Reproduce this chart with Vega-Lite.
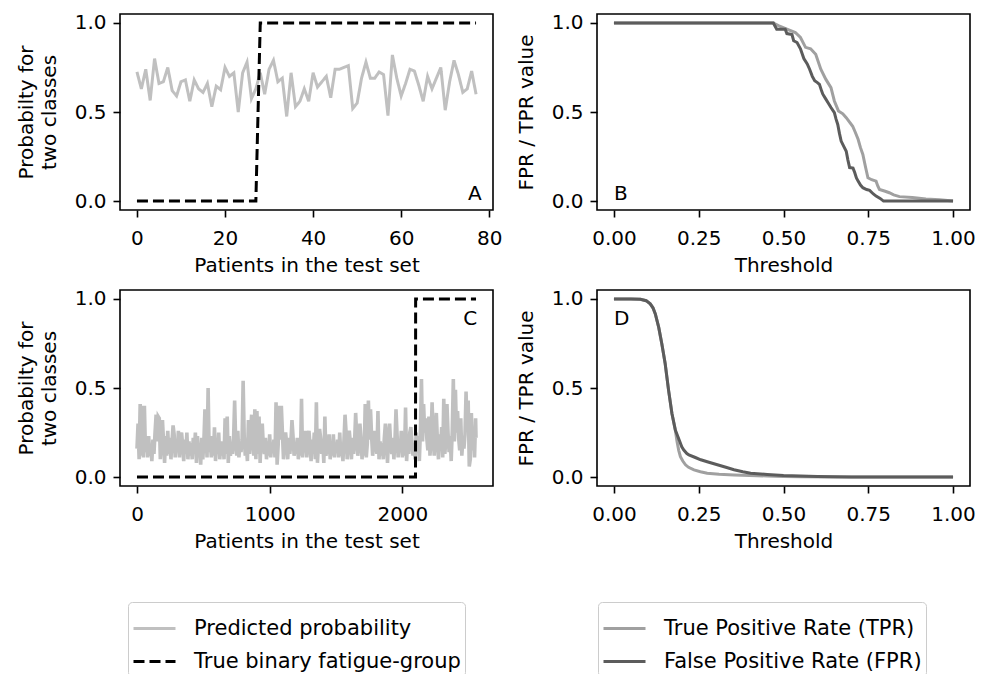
{
"$schema": "https://vega.github.io/schema/vega-lite/v6.json",
"autosize": {"type": "none"},
"padding": {"left": 120, "top": 14, "right": 868, "bottom": 660},
"background": "white",
"columns": 2,
"spacing": {"row": 80, "column": 104},
"bounds": "flush",
"datasets": {
"pa": [{"x":0,"y":0.725},{"x":1,"y":0.63},{"x":2,"y":0.74},{"x":3,"y":0.565},{"x":4,"y":0.80},{"x":5,"y":0.66},{"x":6,"y":0.67},{"x":7,"y":0.75},{"x":8,"y":0.62},{"x":9,"y":0.59},{"x":10,"y":0.67},{"x":11,"y":0.68},{"x":12,"y":0.56},{"x":13,"y":0.68},{"x":14,"y":0.63},{"x":15,"y":0.61},{"x":16,"y":0.66},{"x":17,"y":0.53},{"x":18,"y":0.645},{"x":19,"y":0.625},{"x":20,"y":0.75},{"x":21,"y":0.70},{"x":22,"y":0.72},{"x":23,"y":0.50},{"x":24,"y":0.72},{"x":25,"y":0.78},{"x":26,"y":0.575},{"x":27,"y":0.63},{"x":28,"y":0.72},{"x":29,"y":0.60},{"x":30,"y":0.74},{"x":31,"y":0.79},{"x":32,"y":0.67},{"x":33,"y":0.69},{"x":34,"y":0.475},{"x":35,"y":0.72},{"x":36,"y":0.53},{"x":37,"y":0.56},{"x":38,"y":0.63},{"x":39,"y":0.56},{"x":40,"y":0.72},{"x":41,"y":0.64},{"x":42,"y":0.67},{"x":43,"y":0.70},{"x":44,"y":0.58},{"x":45,"y":0.74},{"x":46,"y":0.74},{"x":47,"y":0.75},{"x":48,"y":0.76},{"x":49,"y":0.52},{"x":50,"y":0.55},{"x":51,"y":0.69},{"x":52,"y":0.78},{"x":53,"y":0.69},{"x":54,"y":0.69},{"x":55,"y":0.725},{"x":56,"y":0.71},{"x":57,"y":0.48},{"x":58,"y":0.82},{"x":59,"y":0.69},{"x":60,"y":0.59},{"x":61,"y":0.66},{"x":62,"y":0.74},{"x":63,"y":0.73},{"x":64,"y":0.65},{"x":65,"y":0.56},{"x":66,"y":0.70},{"x":67,"y":0.63},{"x":68,"y":0.69},{"x":69,"y":0.75},{"x":70,"y":0.51},{"x":71,"y":0.67},{"x":72,"y":0.79},{"x":73,"y":0.71},{"x":74,"y":0.61},{"x":75,"y":0.63},{"x":76,"y":0.73},{"x":77,"y":0.60}],
"ta": [{"x":0,"y":0},{"x":27,"y":0},{"x":28,"y":1},{"x":77,"y":1}],
"tprb": [{"x":0,"y":1},{"x":0.47,"y":1},{"x":0.485,"y":0.985},{"x":0.51,"y":0.965},{"x":0.535,"y":0.946},{"x":0.55,"y":0.918},{"x":0.565,"y":0.863},{"x":0.58,"y":0.855},{"x":0.595,"y":0.824},{"x":0.61,"y":0.74},{"x":0.625,"y":0.683},{"x":0.64,"y":0.637},{"x":0.65,"y":0.562},{"x":0.662,"y":0.506},{"x":0.675,"y":0.49},{"x":0.685,"y":0.468},{"x":0.704,"y":0.42},{"x":0.712,"y":0.385},{"x":0.72,"y":0.347},{"x":0.727,"y":0.30},{"x":0.734,"y":0.262},{"x":0.742,"y":0.19},{"x":0.749,"y":0.131},{"x":0.76,"y":0.12},{"x":0.773,"y":0.112},{"x":0.778,"y":0.085},{"x":0.783,"y":0.065},{"x":0.80,"y":0.055},{"x":0.812,"y":0.047},{"x":0.825,"y":0.035},{"x":0.842,"y":0.025},{"x":0.88,"y":0.02},{"x":0.92,"y":0.012},{"x":0.96,"y":0.008},{"x":1.0,"y":0.0}],
"fprb": [{"x":0,"y":1},{"x":0.47,"y":1},{"x":0.48,"y":0.965},{"x":0.505,"y":0.965},{"x":0.51,"y":0.94},{"x":0.525,"y":0.935},{"x":0.53,"y":0.90},{"x":0.54,"y":0.89},{"x":0.55,"y":0.855},{"x":0.56,"y":0.80},{"x":0.57,"y":0.77},{"x":0.577,"y":0.74},{"x":0.585,"y":0.70},{"x":0.592,"y":0.675},{"x":0.6,"y":0.665},{"x":0.606,"y":0.655},{"x":0.612,"y":0.62},{"x":0.616,"y":0.60},{"x":0.624,"y":0.575},{"x":0.631,"y":0.553},{"x":0.64,"y":0.525},{"x":0.65,"y":0.497},{"x":0.655,"y":0.46},{"x":0.66,"y":0.43},{"x":0.665,"y":0.38},{"x":0.67,"y":0.337},{"x":0.677,"y":0.31},{"x":0.685,"y":0.28},{"x":0.69,"y":0.23},{"x":0.695,"y":0.188},{"x":0.705,"y":0.185},{"x":0.71,"y":0.16},{"x":0.715,"y":0.13},{"x":0.72,"y":0.112},{"x":0.727,"y":0.09},{"x":0.734,"y":0.075},{"x":0.745,"y":0.065},{"x":0.754,"y":0.06},{"x":0.765,"y":0.04},{"x":0.773,"y":0.028},{"x":0.785,"y":0.015},{"x":0.795,"y":0},{"x":1.0,"y":0}],
"pc": [{"x":0,"y":0.16},{"x":8,"y":0.30},{"x":16,"y":0.10},{"x":24,"y":0.41},{"x":32,"y":0.12},{"x":40,"y":0.40},{"x":48,"y":0.11},{"x":56,"y":0.40},{"x":64,"y":0.14},{"x":72,"y":0.21},{"x":80,"y":0.11},{"x":88,"y":0.23},{"x":96,"y":0.12},{"x":104,"y":0.18},{"x":112,"y":0.09},{"x":120,"y":0.21},{"x":128,"y":0.13},{"x":136,"y":0.25},{"x":144,"y":0.35},{"x":152,"y":0.20},{"x":160,"y":0.34},{"x":168,"y":0.33},{"x":176,"y":0.10},{"x":184,"y":0.22},{"x":192,"y":0.32},{"x":200,"y":0.20},{"x":208,"y":0.08},{"x":216,"y":0.23},{"x":224,"y":0.12},{"x":232,"y":0.26},{"x":240,"y":0.13},{"x":248,"y":0.22},{"x":256,"y":0.10},{"x":264,"y":0.20},{"x":272,"y":0.29},{"x":280,"y":0.24},{"x":288,"y":0.11},{"x":296,"y":0.19},{"x":304,"y":0.14},{"x":312,"y":0.26},{"x":320,"y":0.11},{"x":328,"y":0.23},{"x":336,"y":0.25},{"x":344,"y":0.18},{"x":352,"y":0.09},{"x":360,"y":0.21},{"x":368,"y":0.13},{"x":376,"y":0.25},{"x":384,"y":0.10},{"x":392,"y":0.20},{"x":400,"y":0.12},{"x":408,"y":0.19},{"x":416,"y":0.10},{"x":424,"y":0.22},{"x":432,"y":0.13},{"x":440,"y":0.25},{"x":448,"y":0.08},{"x":456,"y":0.23},{"x":464,"y":0.12},{"x":472,"y":0.18},{"x":480,"y":0.07},{"x":488,"y":0.22},{"x":496,"y":0.10},{"x":504,"y":0.20},{"x":512,"y":0.38},{"x":520,"y":0.24},{"x":528,"y":0.11},{"x":536,"y":0.50},{"x":544,"y":0.14},{"x":552,"y":0.21},{"x":560,"y":0.11},{"x":568,"y":0.23},{"x":576,"y":0.12},{"x":584,"y":0.28},{"x":592,"y":0.09},{"x":600,"y":0.21},{"x":608,"y":0.13},{"x":616,"y":0.25},{"x":624,"y":0.10},{"x":632,"y":0.20},{"x":640,"y":0.12},{"x":648,"y":0.19},{"x":656,"y":0.10},{"x":664,"y":0.33},{"x":672,"y":0.13},{"x":680,"y":0.34},{"x":688,"y":0.08},{"x":696,"y":0.23},{"x":704,"y":0.12},{"x":712,"y":0.18},{"x":720,"y":0.13},{"x":728,"y":0.22},{"x":736,"y":0.43},{"x":744,"y":0.20},{"x":752,"y":0.12},{"x":760,"y":0.26},{"x":768,"y":0.11},{"x":776,"y":0.19},{"x":784,"y":0.14},{"x":792,"y":0.21},{"x":800,"y":0.54},{"x":808,"y":0.23},{"x":816,"y":0.12},{"x":824,"y":0.18},{"x":832,"y":0.09},{"x":840,"y":0.32},{"x":848,"y":0.13},{"x":856,"y":0.25},{"x":864,"y":0.35},{"x":872,"y":0.20},{"x":880,"y":0.12},{"x":888,"y":0.38},{"x":896,"y":0.10},{"x":904,"y":0.37},{"x":912,"y":0.13},{"x":920,"y":0.34},{"x":928,"y":0.08},{"x":936,"y":0.23},{"x":944,"y":0.30},{"x":952,"y":0.18},{"x":960,"y":0.13},{"x":968,"y":0.22},{"x":976,"y":0.10},{"x":984,"y":0.20},{"x":992,"y":0.12},{"x":1000,"y":0.24},{"x":1008,"y":0.11},{"x":1016,"y":0.19},{"x":1024,"y":0.14},{"x":1032,"y":0.21},{"x":1040,"y":0.11},{"x":1048,"y":0.42},{"x":1056,"y":0.07},{"x":1064,"y":0.18},{"x":1072,"y":0.40},{"x":1080,"y":0.21},{"x":1088,"y":0.40},{"x":1096,"y":0.25},{"x":1104,"y":0.10},{"x":1112,"y":0.20},{"x":1120,"y":0.25},{"x":1128,"y":0.19},{"x":1136,"y":0.10},{"x":1144,"y":0.22},{"x":1152,"y":0.13},{"x":1160,"y":0.20},{"x":1168,"y":0.32},{"x":1176,"y":0.23},{"x":1184,"y":0.12},{"x":1192,"y":0.18},{"x":1200,"y":0.13},{"x":1208,"y":0.22},{"x":1216,"y":0.10},{"x":1224,"y":0.20},{"x":1232,"y":0.12},{"x":1240,"y":0.44},{"x":1248,"y":0.11},{"x":1256,"y":0.19},{"x":1264,"y":0.14},{"x":1272,"y":0.26},{"x":1280,"y":0.11},{"x":1288,"y":0.23},{"x":1296,"y":0.26},{"x":1304,"y":0.18},{"x":1312,"y":0.09},{"x":1320,"y":0.21},{"x":1328,"y":0.13},{"x":1336,"y":0.25},{"x":1344,"y":0.10},{"x":1352,"y":0.42},{"x":1360,"y":0.08},{"x":1368,"y":0.19},{"x":1376,"y":0.27},{"x":1384,"y":0.22},{"x":1392,"y":0.13},{"x":1400,"y":0.20},{"x":1408,"y":0.08},{"x":1416,"y":0.34},{"x":1424,"y":0.12},{"x":1432,"y":0.18},{"x":1440,"y":0.13},{"x":1448,"y":0.24},{"x":1456,"y":0.10},{"x":1464,"y":0.20},{"x":1472,"y":0.12},{"x":1480,"y":0.24},{"x":1488,"y":0.11},{"x":1496,"y":0.19},{"x":1504,"y":0.14},{"x":1512,"y":0.21},{"x":1520,"y":0.11},{"x":1528,"y":0.25},{"x":1536,"y":0.12},{"x":1544,"y":0.18},{"x":1552,"y":0.09},{"x":1560,"y":0.21},{"x":1568,"y":0.35},{"x":1576,"y":0.25},{"x":1584,"y":0.10},{"x":1592,"y":0.20},{"x":1600,"y":0.26},{"x":1608,"y":0.19},{"x":1616,"y":0.10},{"x":1624,"y":0.22},{"x":1632,"y":0.13},{"x":1640,"y":0.20},{"x":1648,"y":0.36},{"x":1656,"y":0.23},{"x":1664,"y":0.12},{"x":1672,"y":0.18},{"x":1680,"y":0.30},{"x":1688,"y":0.22},{"x":1696,"y":0.10},{"x":1704,"y":0.20},{"x":1712,"y":0.12},{"x":1720,"y":0.41},{"x":1728,"y":0.11},{"x":1736,"y":0.19},{"x":1744,"y":0.43},{"x":1752,"y":0.21},{"x":1760,"y":0.38},{"x":1768,"y":0.23},{"x":1776,"y":0.12},{"x":1784,"y":0.18},{"x":1792,"y":0.26},{"x":1800,"y":0.21},{"x":1808,"y":0.13},{"x":1816,"y":0.37},{"x":1824,"y":0.10},{"x":1832,"y":0.20},{"x":1840,"y":0.12},{"x":1848,"y":0.19},{"x":1856,"y":0.10},{"x":1864,"y":0.22},{"x":1872,"y":0.30},{"x":1880,"y":0.20},{"x":1888,"y":0.08},{"x":1896,"y":0.23},{"x":1904,"y":0.30},{"x":1912,"y":0.18},{"x":1920,"y":0.13},{"x":1928,"y":0.22},{"x":1936,"y":0.10},{"x":1944,"y":0.20},{"x":1952,"y":0.38},{"x":1960,"y":0.24},{"x":1968,"y":0.11},{"x":1976,"y":0.19},{"x":1984,"y":0.14},{"x":1992,"y":0.26},{"x":2000,"y":0.11},{"x":2008,"y":0.23},{"x":2016,"y":0.12},{"x":2024,"y":0.39},{"x":2032,"y":0.09},{"x":2040,"y":0.21},{"x":2048,"y":0.13},{"x":2056,"y":0.25},{"x":2064,"y":0.28},{"x":2072,"y":0.20},{"x":2080,"y":0.12},{"x":2088,"y":0.19},{"x":2096,"y":0.10},{"x":2104,"y":0.25},{"x":2112,"y":0.14},{"x":2120,"y":0.23},{"x":2128,"y":0.09},{"x":2136,"y":0.26},{"x":2144,"y":0.55},{"x":2152,"y":0.20},{"x":2160,"y":0.41},{"x":2168,"y":0.25},{"x":2176,"y":0.33},{"x":2184,"y":0.22},{"x":2192,"y":0.15},{"x":2200,"y":0.34},{"x":2208,"y":0.12},{"x":2216,"y":0.21},{"x":2224,"y":0.42},{"x":2232,"y":0.24},{"x":2240,"y":0.12},{"x":2248,"y":0.26},{"x":2256,"y":0.36},{"x":2264,"y":0.20},{"x":2272,"y":0.10},{"x":2280,"y":0.24},{"x":2288,"y":0.15},{"x":2296,"y":0.28},{"x":2304,"y":0.11},{"x":2312,"y":0.44},{"x":2320,"y":0.13},{"x":2328,"y":0.21},{"x":2336,"y":0.41},{"x":2344,"y":0.25},{"x":2352,"y":0.14},{"x":2360,"y":0.23},{"x":2368,"y":0.09},{"x":2376,"y":0.26},{"x":2384,"y":0.55},{"x":2392,"y":0.20},{"x":2400,"y":0.49},{"x":2408,"y":0.25},{"x":2416,"y":0.37},{"x":2424,"y":0.22},{"x":2432,"y":0.15},{"x":2440,"y":0.33},{"x":2448,"y":0.12},{"x":2456,"y":0.21},{"x":2464,"y":0.16},{"x":2472,"y":0.24},{"x":2480,"y":0.48},{"x":2488,"y":0.26},{"x":2496,"y":0.43},{"x":2504,"y":0.06},{"x":2512,"y":0.10},{"x":2520,"y":0.36},{"x":2528,"y":0.15},{"x":2536,"y":0.28},{"x":2544,"y":0.11},{"x":2552,"y":0.33},{"x":2555,"y":0.22}],
"tc": [{"x":0,"y":0},{"x":2099,"y":0},{"x":2100,"y":1},{"x":2555,"y":1}],
"tprd": [{"x":0,"y":1},{"x":0.05,"y":1},{"x":0.078,"y":0.998},{"x":0.095,"y":0.99},{"x":0.107,"y":0.972},{"x":0.115,"y":0.95},{"x":0.122,"y":0.916},{"x":0.132,"y":0.84},{"x":0.141,"y":0.75},{"x":0.151,"y":0.637},{"x":0.161,"y":0.488},{"x":0.171,"y":0.357},{"x":0.181,"y":0.264},{"x":0.186,"y":0.2},{"x":0.191,"y":0.15},{"x":0.196,"y":0.115},{"x":0.203,"y":0.09},{"x":0.211,"y":0.069},{"x":0.22,"y":0.055},{"x":0.236,"y":0.04},{"x":0.255,"y":0.03},{"x":0.275,"y":0.022},{"x":0.31,"y":0.016},{"x":0.354,"y":0.012},{"x":0.4,"y":0.009},{"x":0.452,"y":0.006},{"x":0.5,"y":0.004},{"x":0.55,"y":0.002},{"x":0.65,"y":0.001},{"x":1.0,"y":0}],
"fprd": [{"x":0,"y":1},{"x":0.05,"y":1},{"x":0.078,"y":0.998},{"x":0.095,"y":0.99},{"x":0.107,"y":0.972},{"x":0.115,"y":0.95},{"x":0.122,"y":0.916},{"x":0.132,"y":0.84},{"x":0.141,"y":0.75},{"x":0.151,"y":0.637},{"x":0.161,"y":0.488},{"x":0.171,"y":0.357},{"x":0.181,"y":0.264},{"x":0.191,"y":0.215},{"x":0.2,"y":0.17},{"x":0.206,"y":0.152},{"x":0.215,"y":0.132},{"x":0.221,"y":0.125},{"x":0.24,"y":0.11},{"x":0.256,"y":0.097},{"x":0.28,"y":0.083},{"x":0.305,"y":0.069},{"x":0.33,"y":0.055},{"x":0.354,"y":0.041},{"x":0.38,"y":0.03},{"x":0.403,"y":0.022},{"x":0.452,"y":0.015},{"x":0.5,"y":0.009},{"x":0.55,"y":0.006},{"x":0.6,"y":0.003},{"x":0.7,"y":0.001},{"x":1.0,"y":0}],
"la": [{"x":78.3,"y":0.038,"t":"A"}],
"lb": [{"x":0.0,"y":0.038,"t":"B"}],
"lc": [{"x":2565,"y":0.885,"t":"C"}],
"ld": [{"x":0.0,"y":0.885,"t":"D"}]
},
"concat": [
{
"width": 373, "height": 196,
"layer": [
{"data": {"name": "pa"}, "mark": {"type": "line", "strokeWidth": 3},
 "encoding": {
  "x": {"field": "x", "type": "quantitative", "scale": {"domain": [-3.85, 80.85], "nice": false, "zero": false}, "axis": {"values": [0,20,40,60,80], "format": "d", "title": "Patients in the test set"}},
  "y": {"field": "y", "type": "quantitative", "scale": {"domain": [-0.05, 1.05], "nice": false}, "axis": {"values": [0,0.5,1], "format": ".1f", "title": ["Probabilty for", "two classes"]}},
  "color": {"datum": "Predicted probability", "scale": {"domain": ["Predicted probability", "True binary fatigue-group"], "range": ["#c0c0c0", "#000000"]}, "legend": null},
  "strokeDash": {"datum": "Predicted probability", "scale": {"domain": ["Predicted probability", "True binary fatigue-group"], "range": [[1,0],[11,5]]}, "legend": null}
 }},
{"data": {"name": "ta"}, "mark": {"type": "line", "strokeWidth": 3},
 "encoding": {
  "x": {"field": "x", "type": "quantitative"},
  "y": {"field": "y", "type": "quantitative"},
  "color": {"datum": "True binary fatigue-group", "legend": null},
  "strokeDash": {"datum": "True binary fatigue-group", "legend": null}
 }},
{"data": {"name": "la"}, "mark": {"type": "text", "align": "right", "baseline": "middle", "fontSize": 20, "color": "black"},
 "encoding": {"x": {"field": "x", "type": "quantitative"}, "y": {"field": "y", "type": "quantitative"}, "text": {"field": "t"}}}
]
},
{
"width": 373, "height": 196,
"layer": [
{"data": {"name": "tprb"}, "mark": {"type": "line", "strokeWidth": 3},
 "encoding": {
  "x": {"field": "x", "type": "quantitative", "scale": {"domain": [-0.05, 1.05], "nice": false, "zero": false}, "axis": {"values": [0,0.25,0.5,0.75,1], "format": ".2f", "title": "Threshold"}},
  "y": {"field": "y", "type": "quantitative", "scale": {"domain": [-0.05, 1.05], "nice": false}, "axis": {"values": [0,0.5,1], "format": ".1f", "title": "FPR / TPR value"}},
  "color": {"datum": "True Positive Rate (TPR)", "scale": {"domain": ["True Positive Rate (TPR)", "False Positive Rate (FPR)"], "range": ["#a0a0a0", "#5c5c5c"]}, "legend": null}
 }},
{"data": {"name": "fprb"}, "mark": {"type": "line", "strokeWidth": 3},
 "encoding": {
  "x": {"field": "x", "type": "quantitative"},
  "y": {"field": "y", "type": "quantitative"},
  "color": {"datum": "False Positive Rate (FPR)", "legend": null}
 }},
{"data": {"name": "lb"}, "mark": {"type": "text", "align": "left", "baseline": "middle", "fontSize": 20, "color": "black"},
 "encoding": {"x": {"field": "x", "type": "quantitative"}, "y": {"field": "y", "type": "quantitative"}, "text": {"field": "t"}}}
]
},
{
"width": 373, "height": 196,
"layer": [
{"data": {"name": "pc"}, "mark": {"type": "line", "strokeWidth": 3.6},
 "encoding": {
  "x": {"field": "x", "type": "quantitative", "scale": {"domain": [-128, 2683], "nice": false, "zero": false}, "axis": {"values": [0,1000,2000], "format": "d", "title": "Patients in the test set"}},
  "y": {"field": "y", "type": "quantitative", "scale": {"domain": [-0.05, 1.05], "nice": false}, "axis": {"values": [0,0.5,1], "format": ".1f", "title": ["Probabilty for", "two classes"]}},
  "color": {"datum": "Predicted probability", "scale": {"domain": ["Predicted probability", "True binary fatigue-group"], "range": ["#c0c0c0", "#000000"]}, "legend": {"title": null, "orient": "none", "legendX": 8, "legendY": 312}},
  "strokeDash": {"datum": "Predicted probability", "scale": {"domain": ["Predicted probability", "True binary fatigue-group"], "range": [[1,0],[11,5]]}, "legend": {"title": null, "orient": "none", "legendX": 8, "legendY": 312}}
 }},
{"data": {"name": "tc"}, "mark": {"type": "line", "strokeWidth": 3},
 "encoding": {
  "x": {"field": "x", "type": "quantitative"},
  "y": {"field": "y", "type": "quantitative"},
  "color": {"datum": "True binary fatigue-group"},
  "strokeDash": {"datum": "True binary fatigue-group"}
 }},
{"data": {"name": "lc"}, "mark": {"type": "text", "align": "right", "baseline": "middle", "fontSize": 20, "color": "black"},
 "encoding": {"x": {"field": "x", "type": "quantitative"}, "y": {"field": "y", "type": "quantitative"}, "text": {"field": "t"}}}
]
},
{
"width": 373, "height": 196,
"layer": [
{"data": {"name": "tprd"}, "mark": {"type": "line", "strokeWidth": 3},
 "encoding": {
  "x": {"field": "x", "type": "quantitative", "scale": {"domain": [-0.05, 1.05], "nice": false, "zero": false}, "axis": {"values": [0,0.25,0.5,0.75,1], "format": ".2f", "title": "Threshold"}},
  "y": {"field": "y", "type": "quantitative", "scale": {"domain": [-0.05, 1.05], "nice": false}, "axis": {"values": [0,0.5,1], "format": ".1f", "title": "FPR / TPR value"}},
  "color": {"datum": "True Positive Rate (TPR)", "scale": {"domain": ["True Positive Rate (TPR)", "False Positive Rate (FPR)"], "range": ["#a0a0a0", "#5c5c5c"]}, "legend": {"title": null, "orient": "none", "legendX": 1, "legendY": 312}}
 }},
{"data": {"name": "fprd"}, "mark": {"type": "line", "strokeWidth": 3},
 "encoding": {
  "x": {"field": "x", "type": "quantitative"},
  "y": {"field": "y", "type": "quantitative"},
  "color": {"datum": "False Positive Rate (FPR)"}
 }},
{"data": {"name": "ld"}, "mark": {"type": "text", "align": "left", "baseline": "middle", "fontSize": 20, "color": "black"},
 "encoding": {"x": {"field": "x", "type": "quantitative"}, "y": {"field": "y", "type": "quantitative"}, "text": {"field": "t"}}}
]
}
],
"resolve": {"scale": {"color": "independent", "strokeDash": "independent", "x": "independent", "y": "independent"}, "legend": {"color": "independent", "strokeDash": "independent"}},
"config": {
 "font": "DejaVu Sans",
 "view": {"stroke": "black", "strokeWidth": 1.6},
 "axis": {"grid": false, "domain": false, "tickColor": "black", "tickWidth": 1.6, "tickSize": 7, "labelFontSize": 20, "labelColor": "black", "titleFontSize": 20, "titleFontWeight": "normal", "titleColor": "black", "labelPadding": 7, "labelFlush": false, "labelOverlap": false, "labelFont": "DejaVu Sans", "titleFont": "DejaVu Sans"},
 "axisY": {"titlePadding": 15, "titleLineHeight": 23},
 "axisX": {"titlePadding": 7, "labelPadding": 11},
 "text": {"font": "DejaVu Sans"},
 "legend": {"labelFont": "DejaVu Sans", "labelFontSize": 21, "labelColor": "black", "symbolType": "stroke", "symbolSize": 1764, "symbolStrokeWidth": 3, "strokeColor": "#cccccc", "fillColor": "white", "cornerRadius": 4, "padding": 4, "rowPadding": -13, "labelOffset": 17, "labelLimit": 400}
}
}
